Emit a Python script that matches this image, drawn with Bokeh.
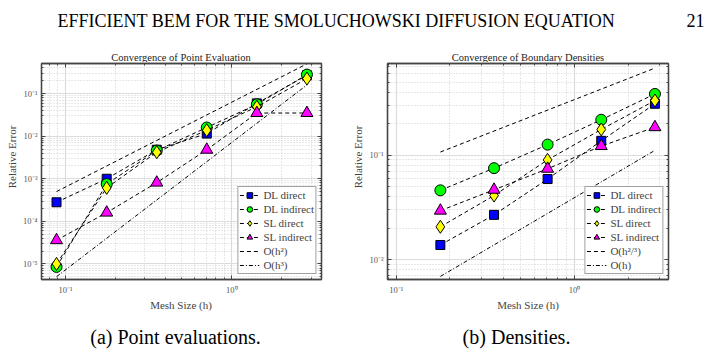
import math
from bokeh.plotting import figure
from bokeh.models import FixedTicker, LogAxis, Label, Legend, LegendItem, Range1d
from bokeh.layouts import column, row
from bokeh.embed import file_html
from bokeh.resources import INLINE

SERIF = "Liberation Serif"
FRAME = "#444444"

header_text = "EFFICIENT BEM FOR THE SMOLUCHOWSKI DIFFUSION EQUATION"
page_number = "21"
titles = ["Convergence of Point Evaluation", "Convergence of Boundary Densities"]
captions = ["(a) Point evaluations.", "(b) Densities."]
x_label = "Mesh Size (h)"
y_label = "Relative Error"

# ---- (a) point evaluations ----
h_point = [0.0884, 0.177, 0.354, 0.707, 1.414, 2.828]
dl_direct_point = [2.8e-4, 1.0e-3, 4.8e-3, 1.15e-2, 5.9e-2, 0.27]
dl_indirect_point = [8.5e-6, 7.5e-4, 4.6e-3, 1.6e-2, 5.6e-2, 0.28]
sl_direct_point = [1.0e-5, 6.1e-4, 4.2e-3, 1.38e-2, 4.9e-2, 0.225]
sl_indirect_point = [3.6e-5, 1.6e-4, 8.1e-4, 4.8e-3, 3.5e-2, 3.5e-2]
ref_point_h = [0.0884, 2.828]
ref_h2 = [5.0e-4, 0.5]
ref_h3 = [5.0e-6, 0.16]

# ---- (b) densities ----
h_dens = [0.177, 0.354, 0.707, 1.414, 2.828]
dl_direct_dens = [0.0138, 0.0268, 0.059, 0.137, 0.31]
dl_indirect_dens = [0.046, 0.075, 0.126, 0.218, 0.385]
sl_direct_dens = [0.0206, 0.041, 0.09, 0.176, 0.333]
sl_indirect_dens = [0.0294, 0.0466, 0.074, 0.122, 0.185]
ref_dens_h = [0.177, 2.828]
ref_h23 = [0.107, 0.68]
ref_h1 = [0.0069, 0.111]

series_labels = ["DL direct", "DL indirect", "SL direct", "SL indirect"]
series_markers = ["square", "circle", "diamond", "triangle"]
series_colors = ["#0000ff", "#00ff00", "#ffff00", "#ff00ff"]
series_sizes = [9, 11, 13, 12]

x_ticks = [0.1, 1.0]
x_tick_labels = ["10⁻¹", "10⁰"]
y_ticks_a = [1e-5, 1e-4, 1e-3, 1e-2, 1e-1]
y_tick_labels_a = ["10⁻⁵", "10⁻⁴", "10⁻³", "10⁻²", "10⁻¹"]
y_ticks_b = [1e-2, 1e-1]
y_tick_labels_b = ["10⁻²", "10⁻¹"]
minor_ticks = [m * 10.0 ** k for k in range(-7, 2) for m in range(2, 10)]

HDR_H = 62
ROW_H = 235


def blank(width, height):
    f = figure(width=width, height=height, output_backend="svg",
               toolbar_location=None, x_axis_location=None,
               y_axis_location=None, min_border=0,
               x_range=Range1d(0, 1), y_range=Range1d(0, 1))
    f.outline_line_color = None
    f.grid.visible = False
    return f


def lab(f, x, y, text, size, align="center", baseline="middle", angle=0.0,
        color="black"):
    f.add_layout(Label(x=x, y=y, x_units="screen", y_units="screen", text=text,
                       text_font=SERIF, text_font_size=size, text_align=align,
                       text_baseline=baseline, angle=angle, text_color=color))


def make_panel(width, bl, br, xr, yr, yticks, ylabels, h, series, ref_h, refs,
               ref_labels, ref_dashes):
    p = figure(width=width, height=ROW_H, x_axis_type="log", y_axis_type="log",
               x_range=Range1d(*xr), y_range=Range1d(*yr),
               output_backend="svg", toolbar_location=None,
               min_border_left=bl, min_border_right=br,
               min_border_top=1, min_border_bottom=11)
    p.outline_line_color = FRAME
    p.outline_line_width = 1.3
    xt = FixedTicker(ticks=x_ticks, minor_ticks=minor_ticks)
    yt = FixedTicker(ticks=yticks, minor_ticks=minor_ticks)
    p.xaxis.ticker = xt
    p.yaxis.ticker = yt
    p.xaxis.major_label_overrides = dict(zip(x_ticks, x_tick_labels))
    p.yaxis.major_label_overrides = dict(zip(yticks, ylabels))
    top = LogAxis(ticker=xt)
    right = LogAxis(ticker=yt)
    p.add_layout(top, "above")
    p.add_layout(right, "right")
    for ax in p.axis:
        ax.major_tick_in = 4
        ax.major_tick_out = 0
        ax.minor_tick_in = 2
        ax.minor_tick_out = 0
        ax.axis_line_color = FRAME
        ax.axis_line_width = 1.3
        ax.major_tick_line_color = FRAME
        ax.minor_tick_line_color = FRAME
        ax.major_label_text_font = SERIF
        ax.major_label_text_font_size = "8.5px"
        ax.major_label_text_color = "#555555"
    for ax in (top, right):
        ax.major_label_text_font_size = "0px"
        ax.major_label_text_alpha = 0
        ax.major_label_standoff = 0
    p.xaxis[0].major_label_standoff = 1
    p.yaxis[0].major_label_standoff = 4
    p.xgrid.ticker = xt
    p.ygrid.ticker = yt
    for g in (p.xgrid, p.ygrid):
        g.grid_line_color = "#dcdcdc"
        g.grid_line_width = 1.2
        g.minor_grid_line_color = "#cfcfcf"
        g.minor_grid_line_dash = "1 2"
        g.minor_grid_line_width = 1

    items = []
    for vals, lb, mk, col, sz in zip(series, series_labels, series_markers,
                                      series_colors, series_sizes):
        lr = p.line(h, vals, line_color="black", line_width=1, line_dash="4 3")
        sr = p.scatter(h, vals, marker=mk, size=sz, fill_color=col,
                       line_color="black", line_width=1)
        items.append(LegendItem(label=lb, renderers=[lr, sr]))
    for ry, lb, dash in zip(refs, ref_labels, ref_dashes):
        r = p.line(ref_h, ry, line_color="black", line_width=1, line_dash=dash)
        items.append(LegendItem(label=lb, renderers=[r]))

    leg = Legend(items=items, location="bottom_right", margin=5, padding=1,
                 spacing=0, glyph_width=20, glyph_height=14, label_height=13,
                 label_standoff=4, label_text_font=SERIF,
                 label_text_font_size="11px", border_line_color=FRAME,
                 border_line_width=1.2, background_fill_color="white",
                 background_fill_alpha=1)
    p.add_layout(leg)
    return p


pa = make_panel(330, 20, 29, (0.0718, 3.46), (4.3e-6, 0.51), y_ticks_a,
                y_tick_labels_a, h_point,
                [dl_direct_point, dl_indirect_point, sl_direct_point, sl_indirect_point],
                ref_point_h, [ref_h2, ref_h3], ["O(h²)", "O(h³)"], ["4 3", "4 2 1 2"])

pb = make_panel(350, 21, 48, (0.0894, 3.37), (0.00645, 0.753), y_ticks_b,
                y_tick_labels_b, h_dens,
                [dl_direct_dens, dl_indirect_dens, sl_direct_dens, sl_indirect_dens],
                ref_dens_h, [ref_h23, ref_h1], ["O(h²/³)", "O(h)"], ["4 3", "4 2 1 2"])

# header strip (page text + panel titles)
hdr = blank(716, HDR_H)
lab(hdr, 336, HDR_H - 20, header_text, "18px", baseline="alphabetic")
lab(hdr, 704, HDR_H - 20, page_number, "18px", align="right", baseline="alphabetic")
lab(hdr, 180.5, HDR_H - 56.5, titles[0], "10.5px", baseline="alphabetic", color="#222222")
lab(hdr, 527.5, HDR_H - 56.5, titles[1], "10.5px", baseline="alphabetic", color="#222222")

# y-axis label strips
ya = blank(20, ROW_H)
lab(ya, 11, ROW_H - (174.5 - HDR_H), y_label, "11px", angle=math.pi / 2, color="#444444")
yb = blank(16, ROW_H)
lab(yb, 7, ROW_H - (174.5 - HDR_H), y_label, "11px", angle=math.pi / 2, color="#444444")

# bottom strip (x-axis labels + captions)
FTR_H = 350 - HDR_H - ROW_H
ftr = blank(716, FTR_H)
lab(ftr, 180.5, 350 - 304, x_label, "11px", color="#444444")
lab(ftr, 527.5, 350 - 304, x_label, "11px", color="#444444")
lab(ftr, 175, 350 - 336, captions[0], "20px", baseline="alphabetic")
lab(ftr, 516, 350 - 336, captions[1], "20px", baseline="alphabetic")

layout = column(hdr, row(ya, pa, yb, pb, spacing=0), ftr, spacing=0)
open("out.html", "w").write(file_html(layout, INLINE))
